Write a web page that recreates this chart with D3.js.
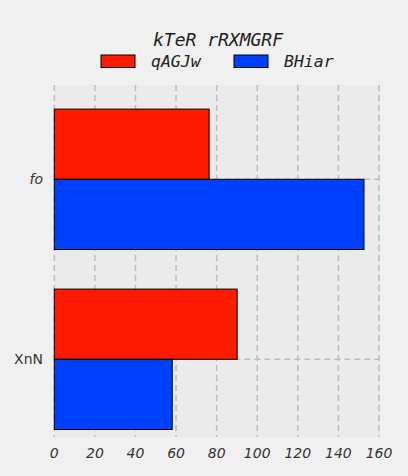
<!DOCTYPE html>
<html><head><meta charset="utf-8">
<script src="https://cdn.jsdelivr.net/npm/d3@7"></script>
<style>body{margin:0;background:#f0f0f0;}svg{display:block;}</style>
</head><body>
<script>
const categories = ["fo", "XnN"];
const seriesNames = ["qAGJw", "BHiar"];
const seriesColors = ["#ff1a00", "#0040ff"];
const valuesQAGJw = [76.3, 90.1];
const valuesBHiar = [152.6, 58.1];
const xTicks = [0, 20, 40, 60, 80, 100, 120, 140, 160];
const chartTitle = "kTeR rRXMGRF";

(function () {
const W = 408, H = 476;
const svg = d3.select("body").append("svg").attr("width", W).attr("height", H);
svg.append("rect").attr("width", W).attr("height", H).attr("fill", "#f0f0f0");

const pL = 54.3, pR = 380, pT = 85, pB = 437;
const x = d3.scaleLinear().domain([0, 160]).range([54.3, 379]);
const catIndex = {"XnN": 0, "fo": 1};
const y = d3.scaleLinear().domain([0, 1]).range([359.3, 179.3]);
const barH = 0.39;

svg.append("rect").attr("x", pL).attr("y", pT).attr("width", pR - pL).attr("height", pB - pT).attr("fill", "#ebebeb");

const g = svg.append("g");
g.selectAll("line.vg").data(xTicks).enter().append("line")
  .attr("x1", d => x(d)).attr("x2", d => x(d)).attr("y1", pT).attr("y2", pB)
  .attr("stroke", "#bdbdbd").attr("stroke-width", 1.5).attr("stroke-dasharray", "6,4");
g.selectAll("line.hg").data(categories).enter().append("line")
  .attr("x1", pL).attr("x2", x(160)).attr("y1", d => y(catIndex[d])).attr("y2", d => y(catIndex[d]))
  .attr("stroke", "#bdbdbd").attr("stroke-width", 1.5).attr("stroke-dasharray", "6,4");

const series = [valuesQAGJw, valuesBHiar];
series.forEach((vals, si) => {
  g.selectAll("rect.s" + si).data(categories).enter().append("rect")
    .attr("x", x(0))
    .attr("y", d => si === 0 ? y(catIndex[d] + barH) : y(catIndex[d]))
    .attr("width", (d, i) => x(vals[i]) - x(0))
    .attr("height", y(0) - y(barH))
    .attr("fill", seriesColors[si]).attr("stroke", "#000").attr("stroke-width", 1);
});

svg.selectAll("text.xt").data(xTicks).enter().append("text")
  .attr("x", d => x(d)).attr("y", 458).attr("text-anchor", "middle")
  .attr("font-family", "DejaVu Sans").attr("font-style", "italic").attr("font-size", 14)
  .attr("fill", "#333").text(d => d);

svg.selectAll("text.yt").data(categories).enter().append("text")
  .attr("x", 43).attr("y", d => y(catIndex[d]) + 5).attr("text-anchor", "end")
  .attr("font-family", "DejaVu Sans").attr("font-style", d => d === "fo" ? "italic" : "normal").attr("font-size", 14)
  .attr("fill", "#333").text(d => d);

svg.append("text").attr("x", 218).attr("y", 46).attr("text-anchor", "middle")
  .attr("font-family", "DejaVu Sans Mono").attr("font-style", "italic").attr("font-size", 18)
  .attr("fill", "#222").text(chartTitle);

const legX = [101, 234];
seriesNames.forEach((n, i) => {
  svg.append("rect").attr("x", legX[i]).attr("y", 55).attr("width", 34).attr("height", 12.5)
    .attr("fill", seriesColors[i]).attr("stroke", "#000").attr("stroke-width", 1);
  svg.append("text").attr("x", legX[i] + 50).attr("y", 66.5)
    .attr("font-family", "DejaVu Sans Mono").attr("font-style", "italic").attr("font-size", 16.5)
    .attr("fill", "#222").text(n);
});
})();
</script>
</body></html>
